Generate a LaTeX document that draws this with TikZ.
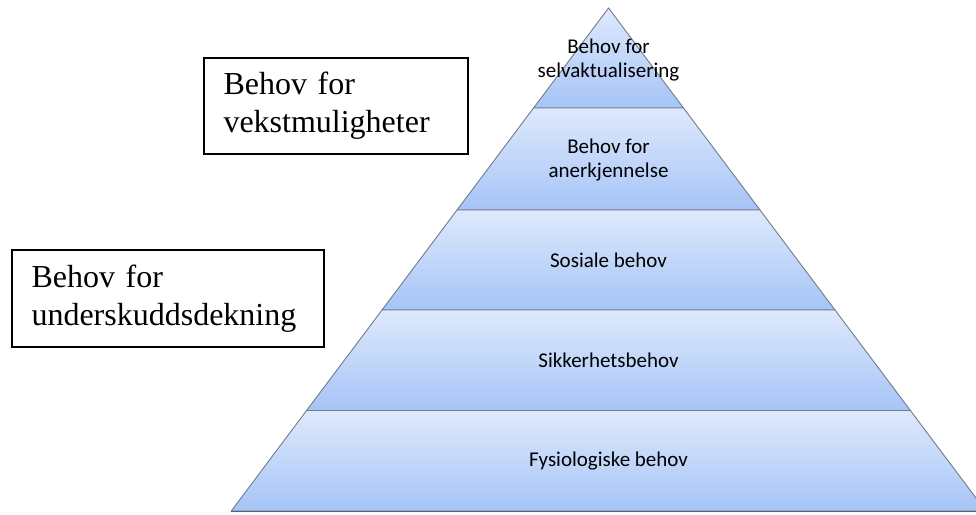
\documentclass[tikz,border=0pt]{standalone}
\usepackage{fontspec}
\setmainfont{Liberation Serif}
\newfontfamily\calib{Carlito}
\definecolor{laytop}{RGB}{222,233,252}
\definecolor{laybot}{RGB}{166,196,247}
\definecolor{layedge}{RGB}{112,122,138}
\tikzset{
  layer/.style={top color=laytop, bottom color=laybot, draw=layedge, line width=0.9pt, line join=miter},
  lvl/.style={font=\calib\fontsize{21}{23.5}\selectfont, align=center, text=black, inner sep=0pt},
  lbox/.style={draw=black, line width=1.3pt, fill=white, font=\fontsize{32}{38}\selectfont, align=left, inner xsep=19.5pt, inner ysep=0pt}
}
\begin{document}
\begin{tikzpicture}[x=1pt,y=-1pt]
\clip (0,0) rectangle (976,514);
\fill[white] (0,0) rectangle (976,514);
% pyramid layers (apex 608.5,8; half-width 0.75*(y-8))
\shade[layer] (608.5,8) -- (683.5,108) -- (533.5,108) -- cycle;
\shade[layer] (533.5,108) -- (683.5,108) -- (760,210) -- (457,210) -- cycle;
\shade[layer] (457,210) -- (760,210) -- (835,310) -- (382,310) -- cycle;
\shade[layer] (382,310) -- (835,310) -- (910.4,410.5) -- (306.6,410.5) -- cycle;
\shade[layer] (306.6,410.5) -- (910.4,410.5) -- (985.75,511) -- (231.25,511) -- cycle;
\draw[layedge!80!black, line width=1.4pt] (231.25,511.3) -- (985.75,511.3);
% level labels
\node[lvl] (l5) at (608.5,60) {Behov for\\selvaktualisering};
\node[lvl] (l4) at (608.5,160) {Behov for\\anerkjennelse};
\node[lvl] (l3) at (608.5,260) {Sosiale behov};
\node[lvl] (l2) at (608.5,360) {Sikkerhetsbehov};
\node[lvl] (l1) at (608.5,461) {Fysiologiske behov};
% side boxes
\node[lbox, text width=225pt, minimum width=264pt, minimum height=96pt] (vekst) at (336,106) {Behov for\\vekstmuligheter};
\node[lbox, text width=273pt, minimum width=312pt, minimum height=97pt] (under) at (168,298.5) {Behov for\\underskuddsdekning};
\end{tikzpicture}
\end{document}
